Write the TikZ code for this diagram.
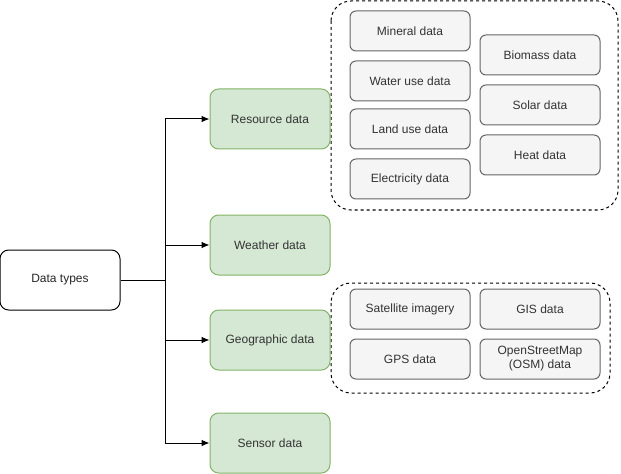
\documentclass[tikz,border=0pt]{standalone}
\usepackage{fontspec}
\setmainfont{Liberation Sans}
\usetikzlibrary{arrows.meta}
\definecolor{greenfill}{HTML}{D5E8D4}
\definecolor{greenline}{HTML}{82B366}
\definecolor{grayfill}{HTML}{F5F5F5}
\definecolor{grayline}{HTML}{666666}
\definecolor{graytext}{HTML}{333333}
\begin{document}
\begin{tikzpicture}[x=0.75pt,y=-0.75pt,
  font=\fontsize{9}{10.5}\selectfont,
  base/.style={rectangle,rounded corners=6.5pt,minimum width=90pt,minimum height=45pt,inner sep=1pt,align=center,line width=0.75pt},
  rootbox/.style={base,draw=black,fill=white,text=black!85},
  catbox/.style={base,draw=greenline,fill=greenfill,text=graytext},
  itembox/.style={rectangle,rounded corners=4.5pt,minimum width=90pt,minimum height=30pt,inner sep=1pt,align=center,line width=0.75pt,draw=grayline,fill=grayfill,text=graytext},
  group/.style={draw=black,line width=0.75pt,dash pattern=on 2.25pt off 2.25pt,rounded corners=15pt},
  link/.style={draw=black,line width=0.75pt},
  arrow/.style={link,-{Latex[length=6pt,width=5pt]}}]
\useasboundingbox (0,0) rectangle (621,474);

% grouping frames
\draw[group] (331,1) rectangle (618,210);
\draw[group] (331,283) rectangle (610,393);

% root and categories
\node[rootbox] (dt) at (60,280) {Data types};
\node[catbox] (res) at (270,119) {Resource data};
\node[catbox] (wea) at (270,245) {Weather data};
\node[catbox] (geo) at (270,340) {Geographic data};
\node[catbox] (sen) at (270,443) {Sensor data};

% resource data items
\node[itembox] (min) at (410,31) {Mineral data};
\node[itembox] (wat) at (410,81) {Water use data};
\node[itembox] (lan) at (410,129) {Land use data};
\node[itembox] (ele) at (410,179) {Electricity data};
\node[itembox] (bio) at (540,55) {Biomass data};
\node[itembox] (sol) at (540,105) {Solar data};
\node[itembox] (hea) at (540,155) {Heat data};

% geographic data items
\node[itembox] (sat) at (410,309) {Satellite imagery};
\node[itembox] (gps) at (410,359) {GPS data};
\node[itembox] (gis) at (540,309) {GIS data};
\node[itembox] (osm) at (540,359) {OpenStreetMap\\(OSM) data};

% tree connectors
\coordinate (trunk) at (165,280);
\draw[link] (dt.east) -- (trunk);
\draw[arrow] (trunk) |- (res.west);
\draw[arrow] (trunk) |- (wea.west);
\draw[arrow] (trunk) |- (geo.west);
\draw[arrow] (trunk) |- (sen.west);
\end{tikzpicture}
\end{document}
